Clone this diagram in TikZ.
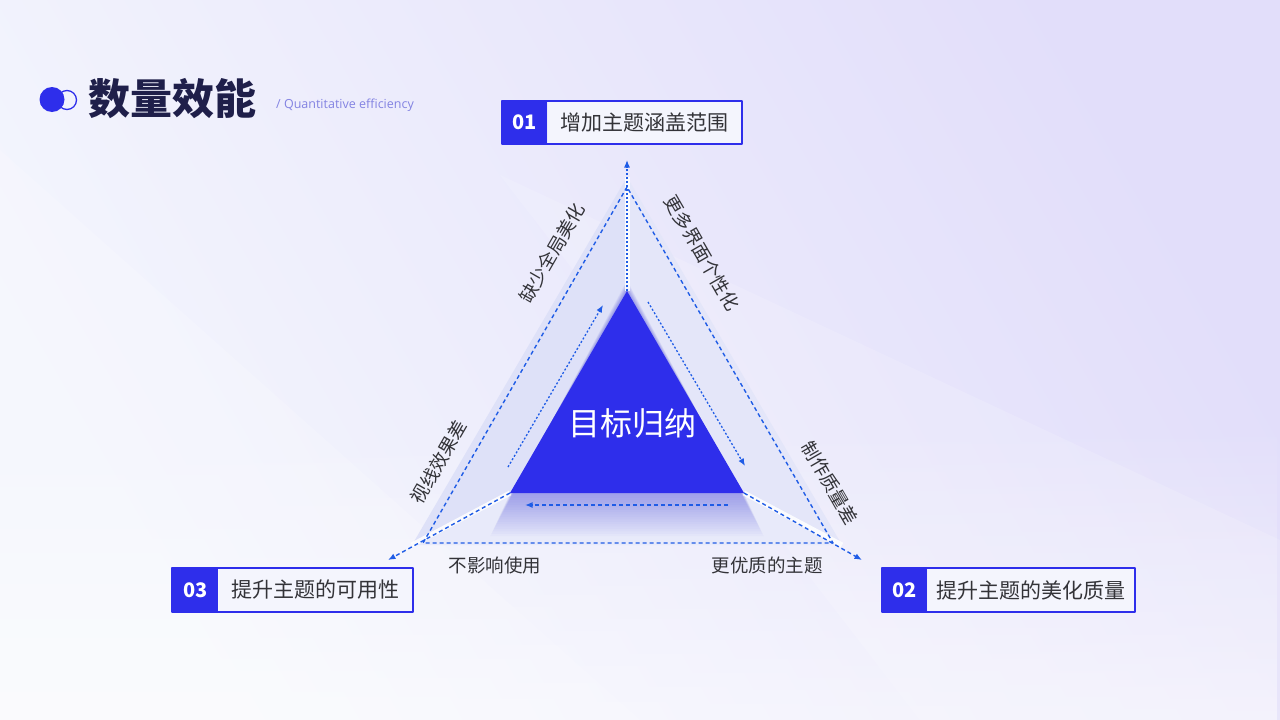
\documentclass[tikz,border=0pt]{standalone}
\usepackage{fontspec}
\setmainfont{Open Sans}
\newfontfamily\cjk{Noto Sans CJK SC}
\usetikzlibrary{arrows.meta,calc,fadings}
\definecolor{mainblue}{HTML}{2E2EEB}
\definecolor{dashblue}{HTML}{1F5CE6}
\definecolor{titlenavy}{HTML}{1F1F4A}
\definecolor{subpurple}{HTML}{8383E2}
\definecolor{textgray}{HTML}{333338}
\definecolor{boxbg}{HTML}{F4F5FD}
\definecolor{bgl}{HTML}{F4F6FD}
\definecolor{bgr}{HTML}{E2DEFA}
\definecolor{faceleft}{HTML}{DEE1F8}
\definecolor{faceright}{HTML}{E4E6F9}
\definecolor{facebottom}{HTML}{E8EAFA}

\begin{document}
\begin{tikzpicture}[x=1pt, y=-1pt, >={Latex[length=7.5pt,width=6pt]}, line join=round,
  numbox/.style={fill=mainblue, text=white, font=\cjk\bfseries\fontsize{20}{24}\selectfont, minimum width=45, minimum height=43, inner sep=0, anchor=west},
  txtbox/.style={fill=boxbg, text=textgray, font=\cjk\fontsize{21}{24}\selectfont, minimum height=43, inner sep=0, anchor=west},
  boxline/.style={draw=mainblue, line width=2pt},
  sidelabel/.style={text=textgray, font=\cjk\fontsize{18.5}{20}\selectfont, inner sep=0},
  dashline/.style={draw=dashblue, line width=1.4pt, dash pattern=on 4pt off 3pt},
  dotline/.style={draw=dashblue, line width=1.3pt, dash pattern=on 2pt off 2pt}]
  \shade[shading=axis, top color=bgr, bottom color=bgl, shading angle=-60] (0,0) rectangle (1280,720);
  \fill[white, opacity=0.5, path fading=north] (0,420) rectangle (1280,720);
  \fill[white, opacity=0.18] (0,150) -- (640,720) -- (0,720) -- cycle;
  \fill[white, opacity=0.15] (500,175) -- (1280,540) -- (1280,720) -- (920,720) -- cycle;

  \coordinate (O1) at (627,177);
  \coordinate (O2) at (412,545);
  \coordinate (O3) at (842,545);
  \coordinate (I1) at (627,291);
  \coordinate (I2) at (510,493);
  \coordinate (I3) at (744,493);
  \coordinate (A) at (627,187);
  \coordinate (B) at (423,543);
  \coordinate (C) at (833,543);
  \coordinate (T) at (627,160);
  \coordinate (L) at (388,560);
  \coordinate (R) at (862,560);
  \coordinate (la) at (508,467);
  \coordinate (lb) at (603,305);
  \coordinate (ra) at (648,302);
  \coordinate (rb) at (745,466);
  \coordinate (ba) at (728,505);
  \coordinate (bb) at (525,505);

  \fill[faceleft] (O1) -- (O2) -- (I2) -- (I1) -- cycle;
  \fill[faceright] (O1) -- (I1) -- (I3) -- (O3) -- cycle;
  \fill[facebottom] (I2) -- (O2) -- (O3) -- (I3) -- cycle;
  \begin{scope}
    \clip (O1) -- (O2) -- (O3) -- cycle;
    \foreach \k in {1,...,18}
      \fill[mainblue, opacity=0.022] ($(I1)+(0,-0.6*\k)$) -- ($(I2)+(-1.1*\k,2.4*\k)$) -- ($(I3)+(1.1*\k,2.4*\k)$) -- cycle;
  \end{scope}
  \draw[white, line width=5pt, opacity=0.85] (I1) -- (O1);
  \draw[white, line width=5pt, opacity=0.85] (I2) -- (O2);
  \draw[white, line width=5pt, opacity=0.85] (I3) -- (O3);
  \fill[mainblue] (I1) -- (I2) -- (I3) -- cycle;

  \draw[dotline, ->] (I1) -- (T);
  \draw[dashline, ->] (I2) -- (L);
  \draw[dashline, ->] (I3) -- (R);
  \draw[dashline] (A) -- (B) -- (C) -- cycle;
  \draw[dotline, ->] (la) -- (lb);
  \draw[dotline, ->] (ra) -- (rb);
  \draw[dashline, ->] (ba) -- (bb);

  \node[text=white, font=\cjk\fontsize{32}{36}\selectfont] (goal) at (632,423) {目标归纳};
  \node[sidelabel, rotate=60] (s1) at (552,253) {缺少全局美化};
  \node[sidelabel, rotate=-60] (s2) at (702,253) {更多界面个性化};
  \node[sidelabel, rotate=60] (s3) at (439,462) {视线效果差};
  \node[sidelabel, rotate=-60] (s4) at (830,483) {制作质量差};
  \node[sidelabel] (s5) at (495,565) {不影响使用};
  \node[sidelabel] (s6) at (767,565) {更优质的主题};

  \node[numbox] (n1) at (502,122.5) {01};
  \node[txtbox, minimum width=194] (t1) at (n1.east) {增加主题涵盖范围};
  \draw[boxline] (n1.north west) rectangle (t1.south east);
  \node[numbox] (n2) at (882,590) {02};
  \node[txtbox, minimum width=207] (t2) at (n2.east) {提升主题的美化质量};
  \draw[boxline] (n2.north west) rectangle (t2.south east);
  \node[numbox, minimum width=46] (n3) at (172,590) {03};
  \node[txtbox, minimum width=194] (t3) at (n3.east) {提升主题的可用性};
  \draw[boxline] (n3.north west) rectangle (t3.south east);

  \node[circle, draw=mainblue, line width=1.3pt, minimum size=19pt, inner sep=0] (ring) at (67,100) {};
  \node[circle, fill=mainblue, minimum size=25pt, inner sep=0] (dot) at (52,99.5) {};
  \node[anchor=west, inner sep=0, text=titlenavy, font=\cjk\bfseries\fontsize{42}{46}\selectfont] (title) at (88,99) {数量效能};
  \node[anchor=west, inner sep=0, text=subpurple, font=\fontsize{12.5}{14}\selectfont] (sub) at (276,105) {/ Quantitative efficiency};
\end{tikzpicture}
\end{document}
